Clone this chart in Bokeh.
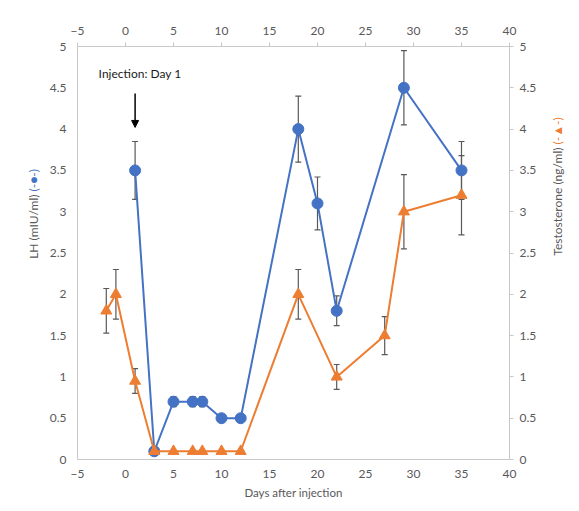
import numpy as np
from bokeh.plotting import figure
from bokeh.layouts import row
from bokeh.models import (Range1d, LinearAxis, FixedTicker, Whisker, ColumnDataSource,
                          TeeHead, Label, Arrow, NormalHead)
from bokeh.embed import file_html
from bokeh.resources import INLINE

# ---- data ----
lh_days = [1, 3, 5, 7, 8, 10, 12, 18, 20, 22, 29, 35]
lh_vals = [3.5, 0.1, 0.7, 0.7, 0.7, 0.5, 0.5, 4.0, 3.1, 1.8, 4.5, 3.5]
lh_err = [0.35, 0.0, 0.06, 0.06, 0.06, 0.0, 0.0, 0.4, 0.32, 0.18, 0.45, 0.35]

t_days = [-2, -1, 1, 3, 5, 7, 8, 10, 12, 18, 22, 27, 29, 35]
t_vals = [1.8, 2.0, 0.95, 0.1, 0.1, 0.1, 0.1, 0.1, 0.1, 2.0, 1.0, 1.5, 3.0, 3.2]
t_err = [0.27, 0.3, 0.15, 0.0, 0.0, 0.0, 0.0, 0.0, 0.0, 0.3, 0.15, 0.23, 0.45, 0.48]

x_ticks = [-5, 0, 5, 10, 15, 20, 25, 30, 35, 40]
y_ticks = [0, 0.5, 1, 1.5, 2, 2.5, 3, 3.5, 4, 4.5, 5]
y_tick_labels = ["0", "0.5", "1", "1.5", "2", "2.5", "3", "3.5", "4", "4.5", "5"]

annot_text = "Injection: Day 1"
annot_pos = (-2.8, 4.67)
arrow_x = 1
arrow_y = (4.43, 4.02)

left_title = ("LH (mIU/ml) ", "(-\u25CF-)")
right_title = ("Testosterone (ng/ml) ", "(-\u25B2-)")

BLUE = "#4472C4"
ORANGE = "#ED7D31"
GRAY = "#595959"
AXC = "#c8c8c8"
FONT = "Lato"

H = 503
LW, MW, RW = 42, 498, 31

p = figure(width=MW, height=H, output_backend="svg", toolbar_location=None,
           x_range=Range1d(-5, 40), y_range=Range1d(0, 5),
           min_border_left=77 - LW, min_border_right=MW + LW - 509,
           min_border_top=46, min_border_bottom=H - 459)
p.outline_line_color = None
p.xgrid.visible = False
p.ygrid.visible = False
p.background_fill_color = "white"
p.border_fill_color = "white"

def style(ax, ticks_on):
    ax.axis_line_color = AXC
    ax.minor_tick_line_color = None
    if ticks_on:
        ax.major_tick_line_color = AXC
        ax.major_tick_out = 4
        ax.major_tick_in = 0
    else:
        ax.major_tick_line_color = None
        ax.major_tick_out = 0
        ax.major_tick_in = 0
    ax.major_label_text_color = GRAY
    ax.major_label_text_font = FONT
    ax.major_label_text_font_size = "12px"

# bottom x axis
xb = p.xaxis[0]
xb.ticker = FixedTicker(ticks=x_ticks)
xb.axis_label = "Days after injection"
xb.axis_label_text_font = FONT
xb.axis_label_text_font_size = "11.5px"
xb.axis_label_text_font_style = "normal"
xb.axis_label_text_color = GRAY
style(xb, False)
xb.major_label_standoff = 10
xb.axis_label_standoff = 5

# top x axis
xt = LinearAxis(ticker=FixedTicker(ticks=x_ticks))
style(xt, True)
xt.major_label_standoff = 8
p.add_layout(xt, "above")

# left y axis
yl = p.yaxis[0]
yl.ticker = FixedTicker(ticks=y_ticks)
yl.major_label_overrides = {t: s for t, s in zip(y_ticks, y_tick_labels)}
style(yl, False)
yl.major_label_standoff = 11

# right y axis
yr = LinearAxis(ticker=FixedTicker(ticks=y_ticks))
yr.major_label_overrides = {t: s for t, s in zip(y_ticks, y_tick_labels)}
style(yr, True)
yr.major_label_standoff = 6
p.add_layout(yr, "right")

# error bars
def whisk(xs, ys, es):
    xs = np.array(xs, float); ys = np.array(ys, float); es = np.array(es, float)
    m = es > 0
    src = ColumnDataSource(dict(x=xs[m], lo=ys[m] - es[m], hi=ys[m] + es[m]))
    w = Whisker(source=src, base="x", lower="lo", upper="hi",
                line_color=GRAY, line_width=1.2, level="underlay",
                upper_head=TeeHead(size=6, line_color=GRAY, line_width=1.2),
                lower_head=TeeHead(size=6, line_color=GRAY, line_width=1.2))
    p.add_layout(w)

whisk(lh_days, lh_vals, lh_err)
whisk(t_days, t_vals, t_err)

p.line(lh_days, lh_vals, line_color=BLUE, line_width=2)
p.scatter(lh_days, lh_vals, marker="circle", size=11, fill_color=BLUE, line_color=BLUE)
p.line(t_days, t_vals, line_color=ORANGE, line_width=2)
p.scatter(t_days, t_vals, marker="triangle", size=11, fill_color=ORANGE, line_color=ORANGE)

# annotation
p.add_layout(Label(x=annot_pos[0], y=annot_pos[1], text=annot_text, text_font=FONT,
                   text_font_size="12px", text_color="#1a1a1a", text_baseline="middle"))
p.add_layout(Arrow(x_start=arrow_x, y_start=arrow_y[0], x_end=arrow_x, y_end=arrow_y[1],
                   line_color="black", line_width=1.5,
                   end=NormalHead(size=7, fill_color="black", line_color="black")))

# side panels holding the two-colour vertical axis titles
def side_panel(width, sx, sy_split, parts, color):
    f = figure(width=width, height=H, output_backend="svg", toolbar_location=None,
               x_axis_location=None, y_axis_location=None,
               min_border=0, min_border_left=0, min_border_right=0,
               min_border_top=0, min_border_bottom=0)
    f.outline_line_color = None
    f.xgrid.visible = False
    f.ygrid.visible = False
    f.border_fill_color = "white"
    f.background_fill_color = "white"
    for txt, al, col in ((parts[0], "right", GRAY), (parts[1], "left", color)):
        f.add_layout(Label(x=sx, y=sy_split, x_units="screen", y_units="screen", text=txt,
                           angle=np.pi / 2, text_align=al, text_baseline="middle",
                           text_font=FONT, text_font_size="12px", text_color=col))
    return f

lf = side_panel(LW, 33, H - 235, left_title, BLUE)
rf = side_panel(RW, 557 - (LW + MW), H - 188, right_title, ORANGE)

layout = row(lf, p, rf, spacing=0)
open("out.html", "w").write(file_html(layout, INLINE))
